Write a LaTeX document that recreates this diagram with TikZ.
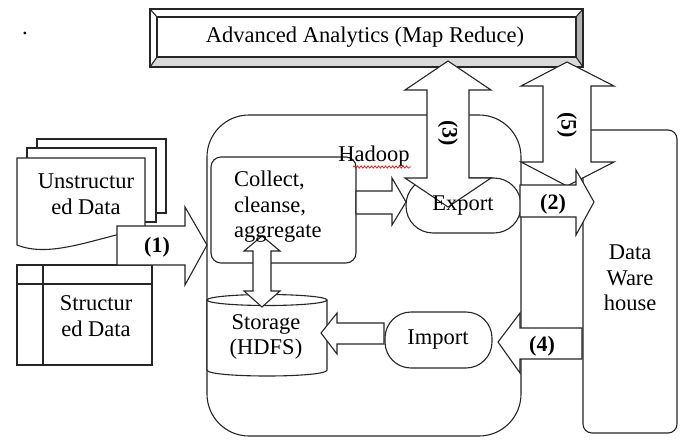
\documentclass[tikz,border=0pt]{standalone}
\usepackage{fontspec}
\setmainfont{Liberation Serif}
\usetikzlibrary{decorations.pathmorphing}
\begin{document}
\begin{tikzpicture}[x=1pt,y=-1pt,
  ln/.style={line width=1.1pt, draw=black!85, line join=miter},
  shapebox/.style={ln, fill=white},
  barrow/.style={ln, fill=white},
  txt/.style={font=\fontsize{22.5}{25.5}\selectfont, inner sep=0pt, align=center},
  lbl/.style={font=\bfseries\fontsize{22}{25}\selectfont, inner sep=0pt}]
\useasboundingbox (0,0) rectangle (684,439);
\fill[white] (0,0) rectangle (684,439);

% top bevel box
\fill[white] (150,9) rectangle (583,67);
\fill[gray!30] (150,67) -- (583,67) -- (576,57) -- (157,57) -- cycle;
\fill[gray!60] (583,9) -- (583,67) -- (576,57) -- (576,17) -- cycle;
\draw[ln] (150,9) rectangle (583,67);
\draw[ln] (157,17) rectangle (576,57);
\draw[ln] (150,9) -- (157,17) (583,9) -- (576,17) (150,67) -- (157,57) (583,67) -- (576,57);

% Hadoop container
\draw[ln, rounded corners=42] (207,115) rectangle (521,436);

% Data warehouse box
\draw[shapebox, rounded corners=9] (583,130) rectangle (677,433);

% Collect box
\draw[shapebox, rounded corners=10] (211,157) rectangle (356,263);
% Export box
\draw[shapebox, rounded corners=27] (406,178) rectangle (521,233);
% Import box
\draw[shapebox, rounded corners=26] (385,312) rectangle (492,368);

% Storage cylinder
\draw[shapebox] (207,300) -- (207,370) .. controls (207,378) and (327,378) .. (327,370) -- (327,300);
\draw[shapebox] (267,300) ellipse [x radius=60, y radius=5.5];

% Unstructured data (multi document)
\draw[shapebox] (37,139) rectangle (166,213);
\draw[shapebox] (27,148) rectangle (156,222);
\draw[shapebox] (17,158) -- (145,158) -- (145,228) .. controls (90,240) and (50,258) .. (17,245) -- cycle;

% Structured data (internal storage)
\draw[shapebox] (17,265) rectangle (152,365);
\draw[ln] (43,265) -- (43,365) (17,284) -- (152,284);

% block arrows
\draw[barrow] (117,226) -- (185,226) -- (185,207) -- (207,245) -- (185,285) -- (185,265) -- (117,265) -- cycle;
\draw[barrow] (356,191) -- (392,191) -- (392,178) -- (406,202) -- (392,225) -- (392,214) -- (356,214) -- cycle;
\draw[barrow] (448,61) -- (491,90) -- (469,90) -- (469,178) -- (491,178) -- (448,207) -- (405,178) -- (427,178) -- (427,90) -- (405,90) -- cycle;
\draw[barrow] (567,62) -- (614,86) -- (591,86) -- (591,162) -- (614,162) -- (567,186) -- (521,162) -- (543,162) -- (543,86) -- (521,86) -- cycle;
\draw[barrow] (520,185) -- (576,185) -- (576,170) -- (594,202) -- (576,235) -- (576,217) -- (520,217) -- cycle;
\draw[barrow] (582,328) -- (520,328) -- (520,313) -- (498,342) -- (520,373) -- (520,359) -- (582,359) -- cycle;
\draw[barrow] (262,236) -- (280,251) -- (271,251) -- (271,291) -- (280,291) -- (262,307) -- (244,291) -- (253,291) -- (253,251) -- (244,251) -- cycle;
\draw[barrow] (384,323) -- (337,323) -- (337,313) -- (321,333) -- (337,354) -- (337,344) -- (384,344) -- cycle;

% texts
\node[txt] (dot) at (25,33) {.};
\node[txt] (aa) at (365,37) {Advanced Analytics (Map Reduce)};
\node[txt] (hadoop) at (374,156) {Hadoop};
\draw[red, line width=0.6pt, decorate, decoration={snake, amplitude=1.2pt, segment length=3.5pt}] (353,167) -- (411,167);
\node[txt, align=left, anchor=west] (collect) at (234,207) {Collect,\\cleanse,\\aggregate};
\node[txt] (export) at (463,206) {Export};
\node[txt] (import) at (438,340) {Import};
\node[txt] (storage) at (266,337) {Storage\\(HDFS)};
\node[txt] (dw) at (630,278) {Data\\Ware\\house};
\node[txt] (unstr) at (86,194) {Unstructur\\ed Data};
\node[txt] (str) at (96,316) {Structur\\ed Data};
\node[lbl] (l1) at (157,247) {(1)};
\node[lbl] (l2) at (553,204) {(2)};
\node[lbl, rotate=-90] (l3) at (448,133) {(3)};
\node[lbl] (l4) at (542,346) {(4)};
\node[lbl, rotate=-90] (l5) at (567,125) {(5)};
\end{tikzpicture}
\end{document}
